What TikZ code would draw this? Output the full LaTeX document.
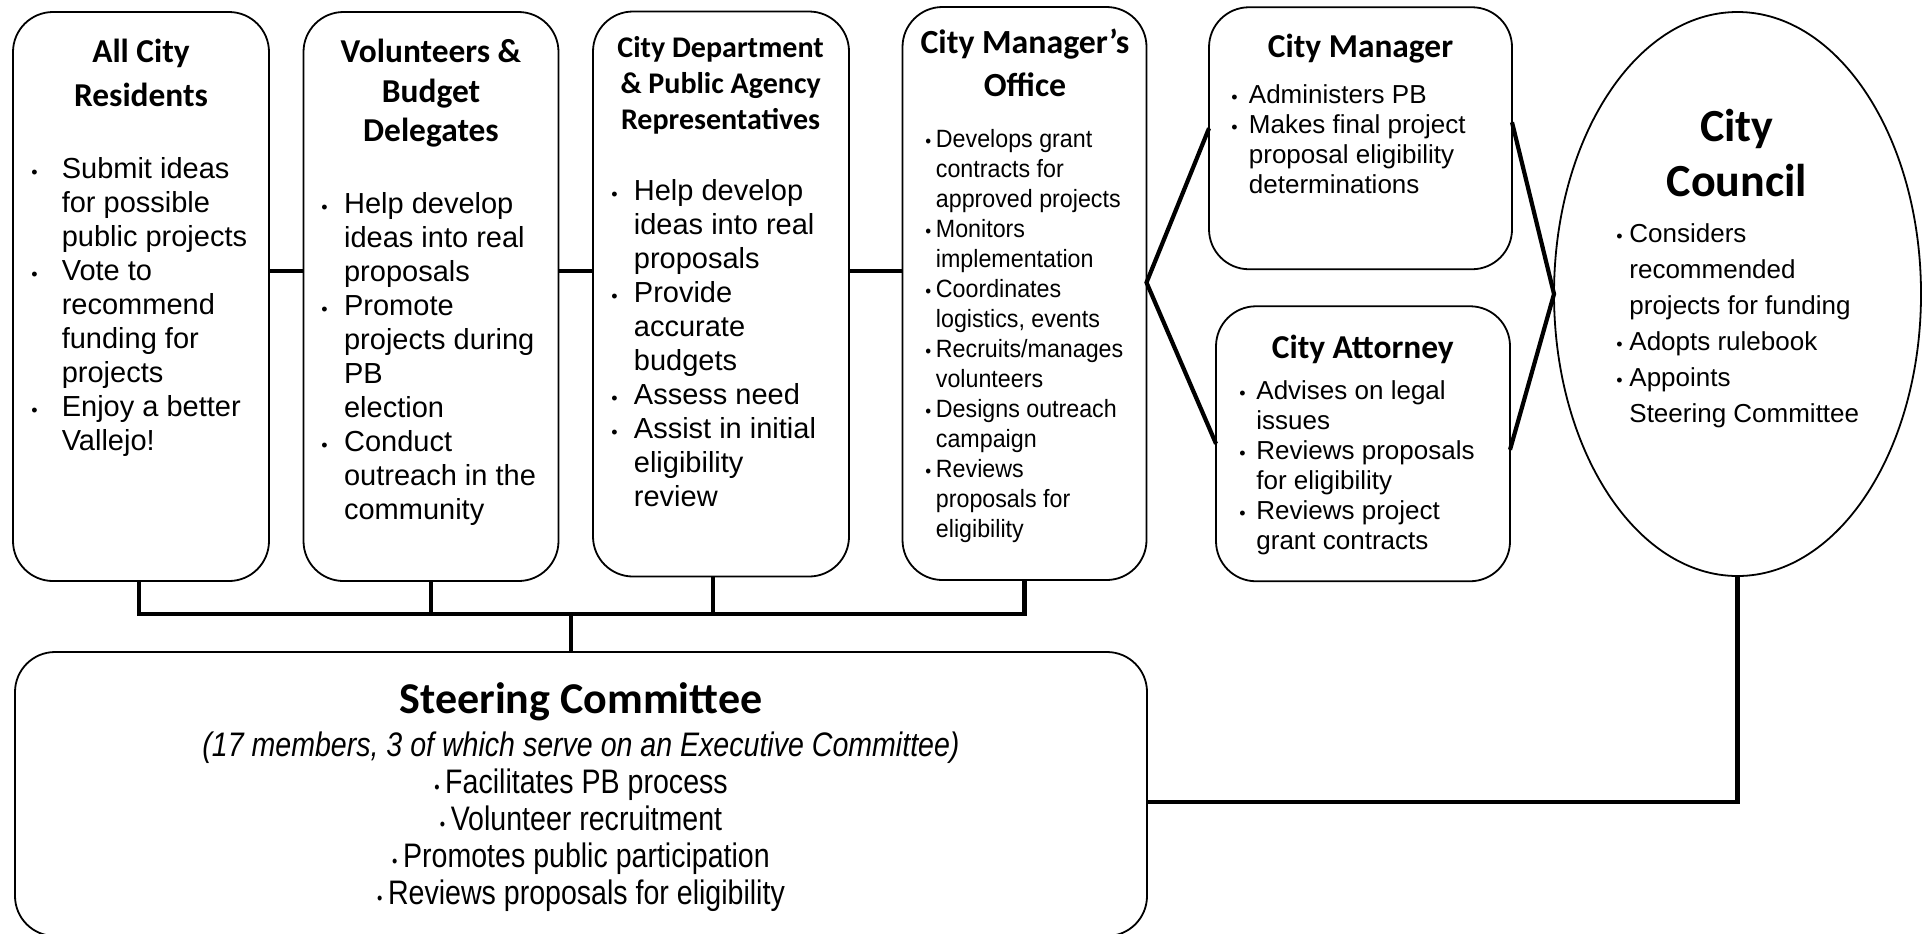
\documentclass[tikz,border=0pt]{standalone}
\usepackage{fontspec}
\setmainfont{Liberation Sans}
\newfontfamily\headfont{Carlito}
\newfontfamily\cmofont[FakeStretch=0.93]{Liberation Sans}
\newfontfamily\steerfont[FakeStretch=0.84]{Liberation Sans}
\usetikzlibrary{shapes.geometric}
\newcommand\bul[1]{\llap{\makebox[#1]{\fontsize{9}{9}\selectfont\textbullet}}}
\newcommand\dotb{{\fontsize{9}{9}\selectfont\textbullet}\,}

\begin{document}
\begin{tikzpicture}[x=0.5pt, y=-0.5pt,
    box/.style={draw, line width=0.9pt, rounded corners=20pt, inner sep=0pt, outer sep=0pt},
    conn/.style={line width=2.1pt},
    head/.style 2 args={anchor=north, align=center, inner sep=0pt, font=\headfont\bfseries\fontsize{#1}{#2}\selectfont},
    body/.style n args={3}{anchor=north west, align=left, inner sep=0pt, font=#1\fontsize{#2}{#3}\selectfont}]
  \useasboundingbox (0,0) rectangle (1925,933);
  \node[box, minimum width=128pt, minimum height=284.5pt] (res) at (141,296.5) {};
  \node[box, minimum width=127.5pt, minimum height=284.5pt] (vol) at (431,296.5) {};
  \node[box, minimum width=128pt, minimum height=282.5pt] (dept) at (721,294) {};
  \node[box, minimum width=122pt, minimum height=286.5pt] (cmo) at (1024.5,293.5) {};
  \node[box, minimum width=151.5pt, minimum height=131pt] (mgr) at (1360.5,138.25) {};
  \node[box, minimum width=147pt, minimum height=137.5pt] (att) at (1363,443.75) {};
  \node[draw, ellipse, line width=0.9pt, inner sep=0pt, outer sep=0pt,
        minimum width=183.5pt, minimum height=282pt] (council) at (1737.5,294) {};
  \node[box, minimum width=566pt, minimum height=142pt] (steer) at (581,794) {};

  \coordinate (link) at (0,271);
  \draw[conn] (res.east |- link) -- (vol.west |- link);
  \draw[conn] (vol.east |- link) -- (dept.west |- link);
  \draw[conn] (dept.east |- link) -- (cmo.west |- link);
  \draw[conn] ([yshift=5pt]mgr.west) -- ([yshift=5.5pt]cmo.east) -- (att.west);
  \draw[conn] ([yshift=8pt]mgr.east) -- (council.west) -- ([yshift=-3pt]att.east);
  \coordinate (bus) at (571,614);
  \draw[conn] ([xshift=-1pt]res.south) -- ([xshift=-1pt]res.south |- bus) -- (cmo.south |- bus) -- (cmo.south);
  \draw[conn] (vol.south) -- (vol.south |- bus);
  \draw[conn] ([xshift=-4pt]dept.south) -- ([xshift=-4pt]dept.south |- bus);
  \draw[conn] (bus) -- (bus |- steer.north);
  \draw[conn] (council.south) |- ([yshift=-4pt]steer.east);

  \node[head={16.7}{22}] (reshead) at (141,39) {All City\\Residents};
  \node[body={}{14.5}{17}] (resbody) at (61.4,157) {\bul{27.4pt}Submit ideas\\for possible\\public projects\\\bul{27.4pt}Vote to\\recommend\\funding for\\projects\\\bul{27.4pt}Enjoy a better\\Vallejo!};

  \node[head={16.7}{19.6}] (volhead) at (431,39) {Volunteers \&\\Budget\\Delegates};
  \node[body={}{14.5}{17}] (volbody) at (343.7,191.6) {\bul{19.7pt}Help develop\\ideas into real\\proposals\\\bul{19.7pt}Promote\\projects during\\PB\\election\\\bul{19.7pt}Conduct\\outreach in the\\community};

  \node[head={15}{17.8}] (depthead) at (720.6,36.5) {City Department\\\& Public Agency\\Representatives};
  \node[body={}{14.5}{17}] (deptbody) at (633.5,179.3) {\bul{19.5pt}Help develop\\ideas into real\\proposals\\\bul{19.5pt}Provide\\accurate\\budgets\\\bul{19.5pt}Assess need\\\bul{19.5pt}Assist in initial\\eligibility\\review};

  \node[head={16.9}{21.5}] (cmohead) at (1025,28.9) {City Manager’s\\Office};
  \node[body={\cmofont}{12.5}{15}] (cmobody) at (935.5,129) {\bul{7.5pt}Develops grant\\contracts for\\approved projects\\\bul{7.5pt}Monitors\\implementation\\\bul{7.5pt}Coordinates\\logistics, events\\\bul{7.5pt}Recruits/manages\\volunteers\\\bul{7.5pt}Designs outreach\\campaign\\\bul{7.5pt}Reviews\\proposals for\\eligibility};

  \node[head={16.7}{20}] (mgrhead) at (1360.5,34) {City Manager};
  \node[body={}{13}{15}] (mgrbody) at (1248.5,84.6) {\bul{14.5pt}Administers PB\\\bul{14.5pt}Makes final project\\proposal eligibility\\determinations};

  \node[head={16.7}{20}] (atthead) at (1362.7,334.7) {City Attorney};
  \node[body={}{13}{15}] (attbody) at (1256,380.5) {\bul{14pt}Advises on legal\\issues\\\bul{14pt}Reviews proposals\\for eligibility\\\bul{14pt}Reviews project\\grant contracts};

  \node[head={23}{27.6}] (councilhead) at (1737,109) {City\\Council};
  \node[body={}{13}{18}] (councilbody) at (1629,223) {\bul{10pt}Considers\\recommended\\projects for funding\\\bul{10pt}Adopts rulebook\\\bul{10pt}Appoints\\Steering Committee};

  \node[head={22}{26}] (steerhead) at (581,681.9) {Steering Committee};
  \node[anchor=north, align=center, inner sep=0pt, font=\steerfont\fontsize{17}{18.6}\selectfont] (steerbody) at (581,731)
    {\textit{(17 members, 3 of which serve on an Executive Committee)}\\\dotb Facilitates PB process\\\dotb Volunteer recruitment\\\dotb Promotes public participation\\\dotb Reviews proposals for eligibility};
\end{tikzpicture}
\end{document}
